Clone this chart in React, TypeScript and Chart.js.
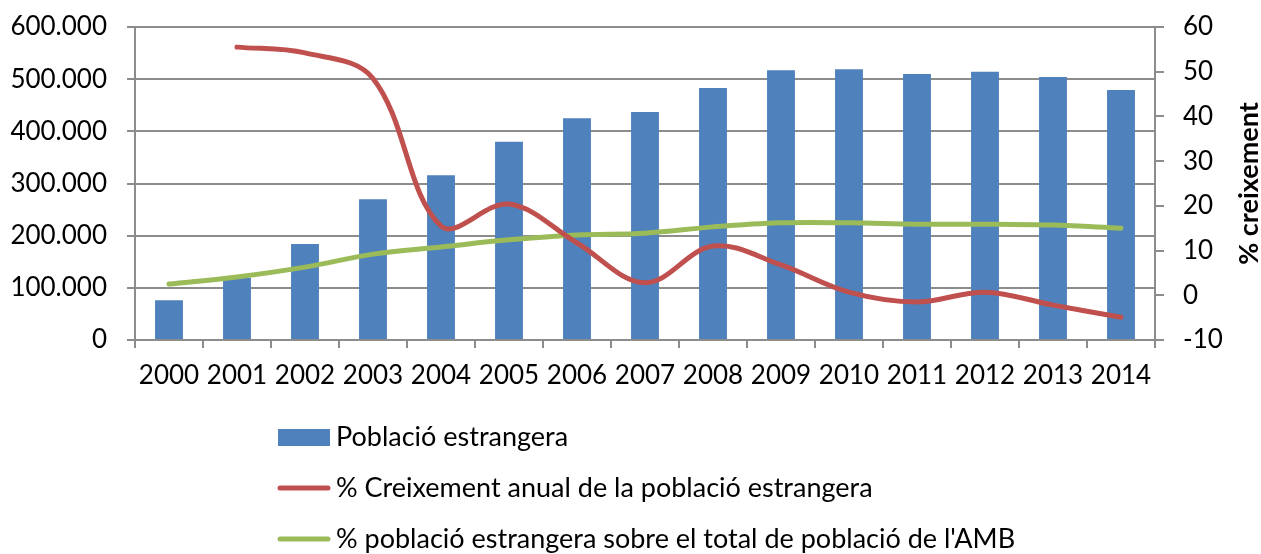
import React, { useEffect, useRef } from "react";
import { Chart, registerables } from "chart.js";

Chart.register(...registerables);

const years = ["2000", "2001", "2002", "2003", "2004", "2005", "2006", "2007", "2008", "2009", "2010", "2011", "2012", "2013", "2014"];
const poblacioEstrangera = [76000, 119000, 184000, 270000, 316000, 380000, 425000, 437000, 483000, 517000, 519000, 510000, 514000, 504000, 479000];
const creixementAnual = [null, 55.5, 54.2, 48.5, 15.5, 20.4, 11.7, 2.8, 11, 6.8, 0.7, -1.5, 0.7, -2.2, -4.9];
const percentAMB = [2.5, 4.1, 6.3, 9.2, 10.8, 12.4, 13.5, 13.9, 15.3, 16.2, 16.2, 15.9, 15.9, 15.7, 15.0];

const seriesLabels = [
  "Població estrangera",
  "% Creixement anual de la població estrangera",
  "% població estrangera sobre el total de població de l'AMB",
];
const rightTitle = "% creixement";

const BLUE = "#4F81BD";
const RED = "#C0504D";
const GREEN = "#9BBB59";
const GRID = "#8c8c8c";
const FONT = "Lato";
const TICK_SIZE = 26;

function fmtThousands(v: number) {
  return String(Math.round(v)).replace(/\B(?=(\d{3})+(?!\d))/g, ".");
}

const overlayPlugin = {
  id: "overlay",
  afterDraw(chart: any) {
    const ctx = chart.ctx as CanvasRenderingContext2D;
    const area = chart.chartArea;
    // right axis title
    ctx.save();
    ctx.translate(1249, (area.top + area.bottom) / 2);
    ctx.rotate(-Math.PI / 2);
    ctx.font = `bold 27px ${FONT}`;
    ctx.fillStyle = "#000";
    ctx.textAlign = "center";
    ctx.textBaseline = "middle";
    ctx.fillText(rightTitle, 0, 0);
    ctx.restore();

    // legend
    const items = chart.data.datasets.map((d: any) => ({ label: d.label, color: d.borderColor || d.backgroundColor, type: d.type }));
    const baselines = [446, 497, 548];
    ctx.save();
    ctx.font = `27px ${FONT}`;
    ctx.textAlign = "left";
    ctx.textBaseline = "alphabetic";
    items.forEach((it: any, i: number) => {
      const b = baselines[i];
      if (it.type === "bar") {
        ctx.fillStyle = BLUE;
        ctx.fillRect(278, b - 17, 52, 17);
      } else {
        ctx.strokeStyle = it.color;
        ctx.lineWidth = 5;
        ctx.lineCap = "round";
        ctx.beginPath();
        ctx.moveTo(280, b - 9);
        ctx.lineTo(328, b - 9);
        ctx.stroke();
      }
      ctx.fillStyle = "#000";
      ctx.fillText(it.label, 336, b);
    });
    ctx.restore();
  },
};

export default function App() {
  const ref = useRef<HTMLCanvasElement | null>(null);

  useEffect(() => {
    document.body.style.margin = "0";
    if (!ref.current) return;
    const chart = new Chart(ref.current, {
      type: "bar",
      data: {
        labels: years,
        datasets: [
          {
            type: "bar",
            label: seriesLabels[0],
            data: poblacioEstrangera,
            backgroundColor: BLUE,
            borderWidth: 0,
            yAxisID: "y",
            barPercentage: 0.41,
            categoryPercentage: 1,
            order: 2,
          },
          {
            type: "line",
            label: seriesLabels[1],
            data: creixementAnual,
            borderColor: RED,
            backgroundColor: RED,
            borderWidth: 5,
            pointRadius: 0,
            tension: 0.36,
            borderCapStyle: "round",
            borderJoinStyle: "round",
            yAxisID: "y1",
            order: 0,
          },
          {
            type: "line",
            label: seriesLabels[2],
            data: percentAMB,
            borderColor: GREEN,
            backgroundColor: GREEN,
            borderWidth: 5,
            pointRadius: 0,
            tension: 0.36,
            borderCapStyle: "round",
            borderJoinStyle: "round",
            yAxisID: "y1",
            order: 1,
          },
        ] as any,
      },
      options: {
        responsive: false,
        animation: false,
        layout: { padding: { top: 27, left: 0, right: 0, bottom: 0 } },
        font: { family: FONT, size: TICK_SIZE } as any,
        plugins: {
          legend: { display: false },
          tooltip: { enabled: false },
        },
        scales: {
          x: {
            offset: true,
            grid: {
              display: true,
              drawOnChartArea: false,
              drawTicks: true,
              tickLength: 8,
              color: GRID,
              lineWidth: 2,
              offset: true,
            },
            border: { display: true, color: GRID, width: 2 },
            ticks: { color: "#000", font: { family: FONT, size: TICK_SIZE }, padding: 12, maxRotation: 0, autoSkip: false },
            afterFit(scale: any) {
              scale.height = 214;
            },
          },
          y: {
            position: "left",
            min: 0,
            max: 600000,
            grid: { color: GRID, lineWidth: 2, tickLength: 8, drawTicks: true },
            border: { display: true, color: GRID, width: 2 },
            ticks: {
              stepSize: 100000,
              color: "#000",
              font: { family: FONT, size: TICK_SIZE },
              padding: 20,
              callback: (v: any) => fmtThousands(Number(v)),
            },
            afterFit(scale: any) {
              scale.width = 135;
              scale.paddingTop = 10;
              scale.paddingBottom = 10;
            },
          },
          y1: {
            position: "right",
            min: -10,
            max: 60,
            grid: { drawOnChartArea: false, color: GRID, lineWidth: 2, tickLength: 9, drawTicks: true },
            border: { display: true, color: GRID, width: 2 },
            ticks: {
              stepSize: 10,
              color: "#000",
              font: { family: FONT, size: TICK_SIZE },
              padding: 19,
            },
            afterFit(scale: any) {
              scale.width = 106;
              scale.paddingTop = 10;
              scale.paddingBottom = 10;
            },
          },
        },
      } as any,
      plugins: [overlayPlugin],
    });
    return () => chart.destroy();
  }, []);

  return (
    <div style={{ position: "relative", width: 1261, height: 554, background: "#fff" }}>
      <canvas ref={ref} width={1261} height={554} style={{ display: "block" }} />
    </div>
  );
}
